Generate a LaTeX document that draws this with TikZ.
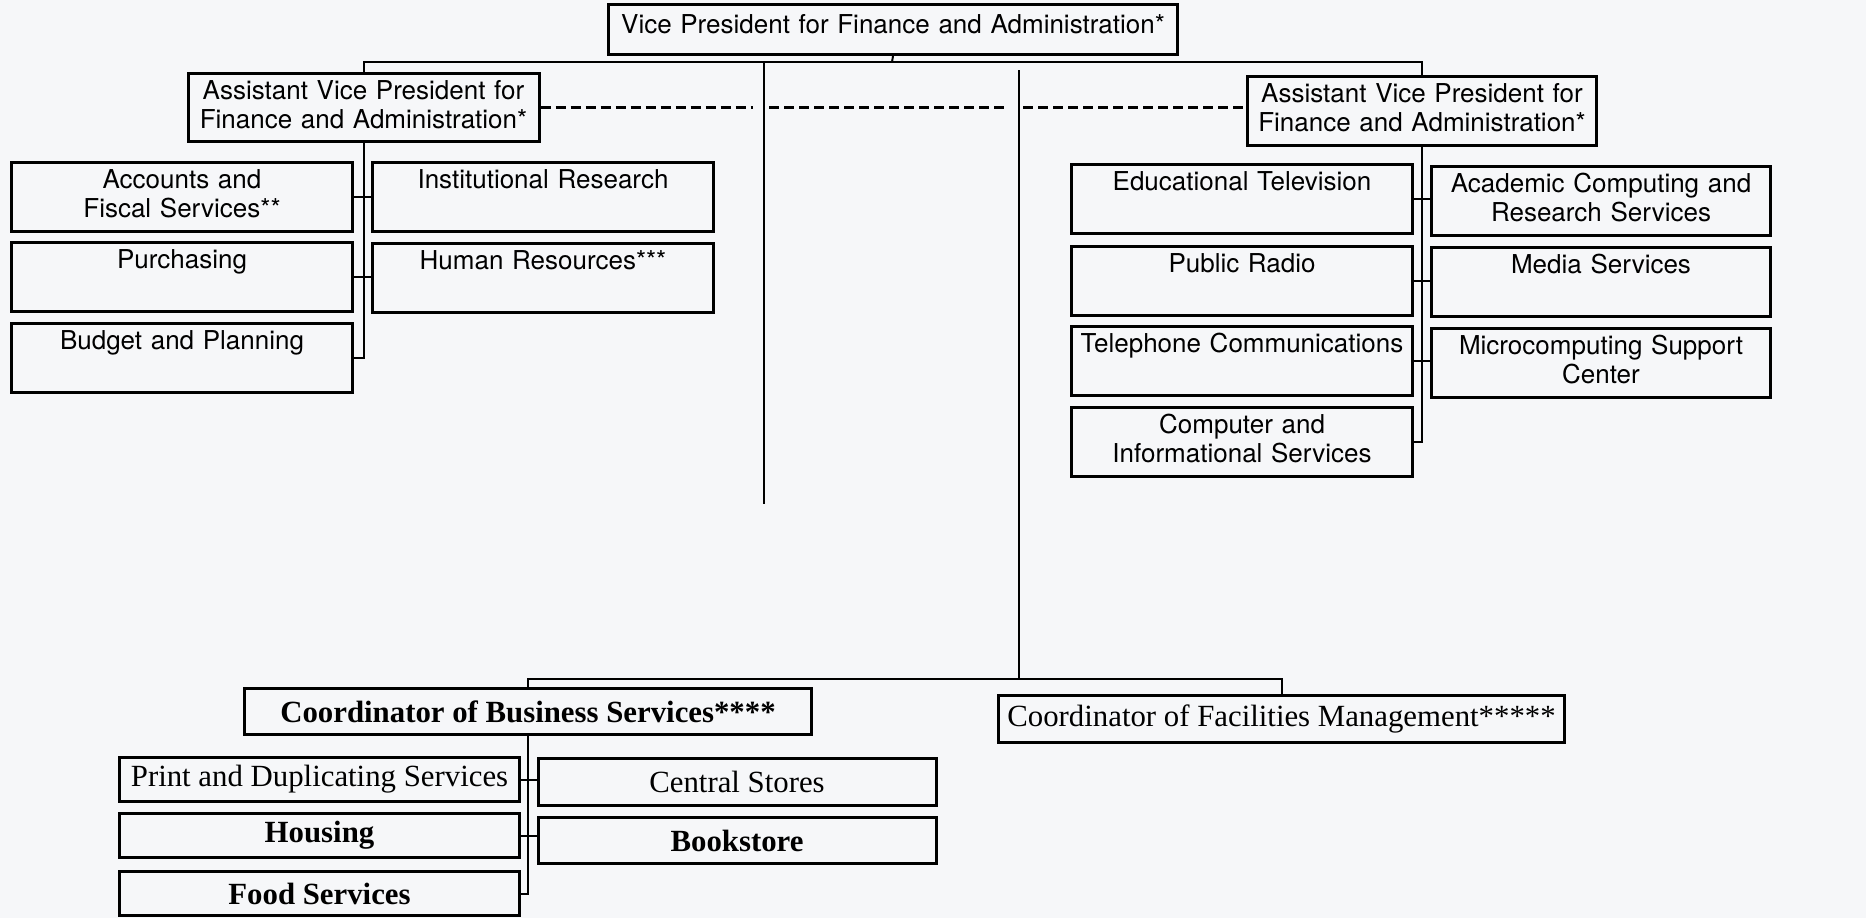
\documentclass[tikz,border=0pt]{standalone}
\usepackage{fontspec}
\newfontfamily\orgsans{TeX Gyre Heros}
\newfontfamily\orgserif{Liberation Serif}
\usetikzlibrary{calc}
\definecolor{paper}{RGB}{246,247,249}

\begin{document}
\begin{tikzpicture}[x=0.5pt, y=-0.5pt,
    officebox/.style={draw, line width=1.5pt, anchor=north west, align=center,
      inner xsep=0pt, inner ysep=0pt, text width=170.5pt,
      text height=13pt, text depth=21.5pt,
      font=\orgsans\fontsize{13}{14.3}\selectfont},
    headbox/.style={officebox, text width=175.5pt, text depth=21pt},
    bizbox/.style={draw, line width=1.5pt, anchor=north west, inner sep=0pt,
      minimum height=23pt, font=\orgserif\fontsize{15.4}{17}\selectfont},
    link/.style={line width=1pt},
    liaison/.style={line width=1.2pt, dash pattern=on 5pt off 2.5pt}]

    % Fija el marco y el fondo de la hoja.
    \useasboundingbox (0,0) rectangle (1866,918);
    \fill[paper] (0,0) rectangle (1866,918);

    % Vicepresidente y los dos asistentes.
    \node[officebox, text width=284.5pt, text height=14.5pt, text depth=10.5pt]
        (vp) at (607,3) {Vice President for Finance and Administration*};
    \node[headbox] (avpl) at (186.5,72)
        {Assistant Vice President for\\Finance and Administration*};
    \node[headbox, text width=174.5pt, text depth=21.5pt] (avpr) at (1246,75)
        {Assistant Vice President for\\Finance and Administration*};

    % Unidades del asistente de la izquierda.
    \node[officebox] (acct) at (10,161) {Accounts and\\Fiscal Services**};
    \node[officebox] (purch) at (10,241) {Purchasing};
    \node[officebox] (budget) at (10,322) {Budget and Planning};
    \node[officebox] (instres) at (371,161) {Institutional Research};
    \node[officebox] (hr) at (371,242) {Human Resources***};

    % Unidades del asistente de la derecha.
    \node[officebox] (edtv) at (1070,163) {Educational Television};
    \node[officebox] (radio) at (1070,245) {Public Radio};
    \node[officebox] (phone) at (1070,325) {Telephone Communications};
    \node[officebox] (compinfo) at (1070,406)
        {Computer and\\Informational Services};
    \node[officebox, text width=169.5pt] (acadcomp) at (1430,165)
        {Academic Computing and\\Research Services};
    \node[officebox, text width=169.5pt] (media) at (1430,246) {Media Services};
    \node[officebox, text width=169.5pt] (micro) at (1430,327)
        {Microcomputing Support\\Center};

    % Coordinadores y sus unidades.
    \node[bizbox, minimum width=283.5pt] (cbs) at (243,687)
        {\bfseries Coordinator of Business Services****};
    \node[bizbox, minimum width=283pt, minimum height=23.5pt] (cfm) at (997,694)
        {Coordinator of Facilities Management*****};
    \node[bizbox, minimum width=200pt, minimum height=22pt] (print) at (118,756)
        {Print and Duplicating Services};
    \node[bizbox, minimum width=200pt, minimum height=22pt] (housing) at (118,812)
        {\bfseries Housing};
    \node[bizbox, minimum width=200pt, minimum height=22pt] (food) at (118,870)
        {\bfseries Food Services};
    \node[bizbox, minimum width=199pt, minimum height=23.5pt] (stores) at (536.5,757)
        {Central Stores};
    \node[bizbox, minimum width=199pt] (books) at (536.5,816)
        {\bfseries Bookstore};

    % Puntos de las barras de enlace.
    \coordinate (topbus) at (892,62);
    \coordinate (dead1) at (764,504);
    \coordinate (top2) at (1019,70);
    \coordinate (lowbus) at (1019,679);

    % Barra superior.
    \draw[link] (vp.south) -- (topbus);
    \draw[link] (avpl.north) |- (topbus) -| (avpr.north);
    \draw[link] (dead1 |- topbus) -- (dead1);
    \draw[link] (top2) -- (lowbus);
    \draw[link] (cbs.north) |- (lowbus) -| (cfm.north);

    % Linea de coordinacion entre asistentes.
    \draw[liaison] (avpl.east) -- ($(avpl.east -| dead1)+(-11,0)$);
    \draw[liaison] ($(avpl.east -| dead1)+(5,0)$) -- ($(avpl.east -| top2)+(-12,0)$);
    \draw[liaison] ($(avpl.east -| top2)+(4,0)$) -- (avpl.east -| avpr.west);

    % Ramas de cada jefe.
    \draw[link] (avpl.south) |- (budget.east);
    \draw[link] (acct.east) -- (acct.east -| instres.west);
    \draw[link] (purch.east) -- (purch.east -| hr.west);

    \draw[link] (avpr.south) |- (compinfo.east);
    \draw[link] (edtv.east) -- (edtv.east -| acadcomp.west);
    \draw[link] (radio.east) -- (radio.east -| media.west);
    \draw[link] (phone.east) -- (phone.east -| micro.west);

    \draw[link] (cbs.south) |- (food.east);
    \draw[link] (print.east) -- (print.east -| stores.west);
    \draw[link] (housing.east) -- (housing.east -| books.west);
\end{tikzpicture}
\end{document}
